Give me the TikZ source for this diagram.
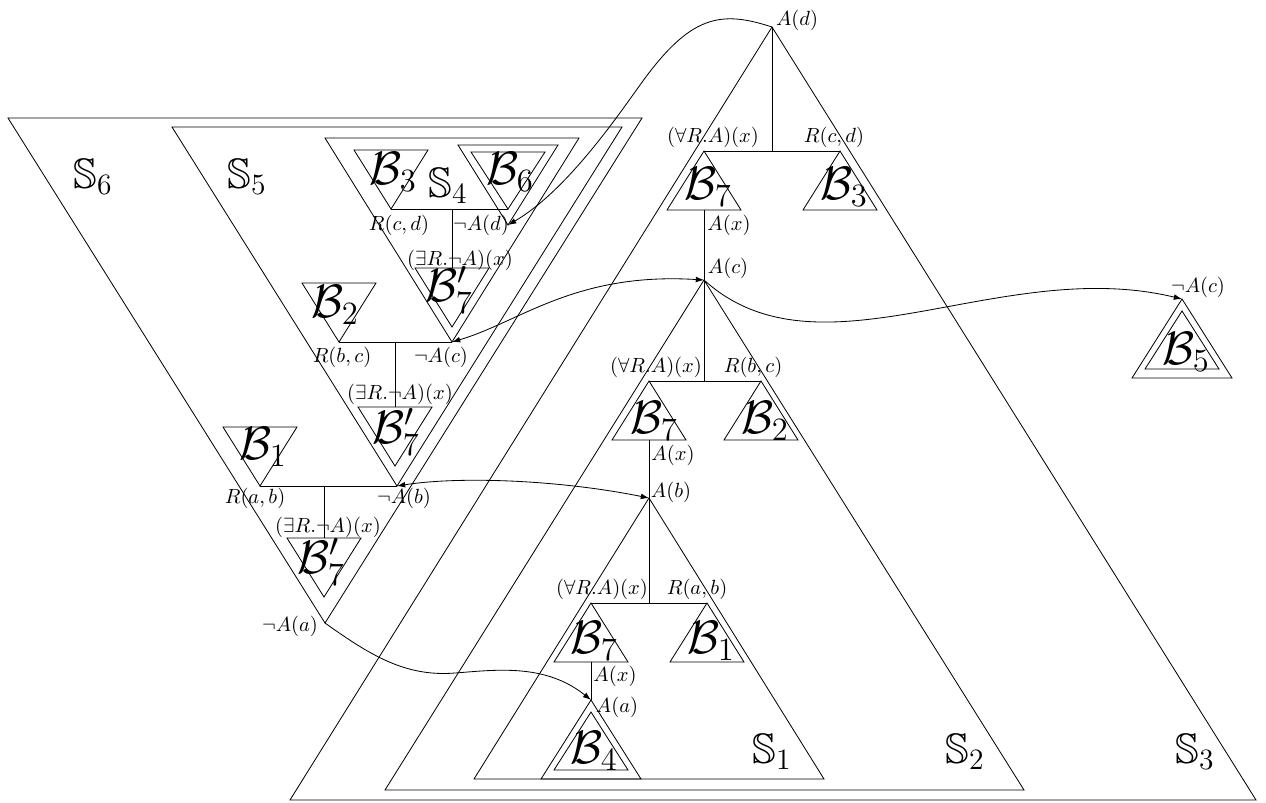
\documentclass[tikz,border=0pt]{standalone}
\usepackage{amssymb}
\usepackage{graphicx}
\usetikzlibrary{arrows.meta,calc}
\newcommand\BB[1]{\scalebox{1.1}{$#1$}}
\tikzset{
  lbl/.style={inner sep=0pt},
  bl/.style={inner sep=0pt,font=\huge},
  sl/.style={inner sep=0pt,font=\huge},
  arr/.style={-{Latex[length=4pt,width=2.8pt]}},
  darr/.style={{Latex[length=4pt,width=2.8pt]}-{Latex[length=4pt,width=2.8pt]}},
  uptri/.pic={\draw (0,0) -- (-37,59) -- (37,59) -- cycle;},
  dntri/.pic={\draw (0,0) -- (-37,-59) -- (37,-59) -- cycle;},
  updbl/.pic={\draw (0,0) -- (-50,79) -- (50,79) -- cycle;
              \draw (0,12) -- (-37,70) -- (37,70) -- cycle;},
  dndbl/.pic={\draw (0,0) -- (-50,-80) -- (50,-80) -- cycle;
              \draw (0,-16) -- (-37,-73) -- (37,-73) -- cycle;}
}
\begin{document}
\begin{tikzpicture}[x=0.4875pt,y=-0.4875pt]
\path[use as bounding box] (0,0) rectangle (1266,802);
% key points
\coordinate (Ad) at (772,27);
\coordinate (Ac) at (704,280);
\coordinate (Ab) at (649,498);
\coordinate (Aa) at (591,700);
\coordinate (nAd) at (508,225);
\coordinate (nAcL) at (452,342);
\coordinate (nAb) at (397,486);
\coordinate (nAa) at (325,623);
\coordinate (nAcR) at (1182,299);
% big triangles (right)
\draw (Ad) -- (290,800) -- (1256,800) -- cycle;
\draw (Ac) -- (385,790) -- (1024,790) -- cycle;
\draw (Ab) -- (474,779) -- (824,779) -- cycle;
% big inverted triangles (left)
\draw (nAa) -- (8,118) -- (642,118) -- cycle;
\draw (nAb) -- (172,127) -- (622,127) -- cycle;
\draw (nAcL) -- (325,138) -- (579,138) -- cycle;
% S3 tree
\coordinate (s3m) at (772,151);
\coordinate (s3l) at (704,151);
\coordinate (s3r) at (840,151);
\coordinate (s3b) at (704,210);
\draw (Ad) -- (s3m);
\draw (s3l) -- (s3r);
\draw (s3b) -- (Ac);
\pic at (s3l) {uptri};
\pic at (s3r) {uptri};
% S2 tree
\coordinate (s2m) at (704,381);
\coordinate (s2l) at (649,381);
\coordinate (s2r) at (761,381);
\coordinate (s2b) at (649,440);
\draw (Ac) -- (s2m);
\draw (s2l) -- (s2r);
\draw (s2b) -- (Ab);
\pic at (s2l) {uptri};
\pic at (s2r) {uptri};
% S1 tree
\coordinate (s1m) at (649,603);
\coordinate (s1l) at (591,603);
\coordinate (s1r) at (707,603);
\coordinate (s1b) at (591,662);
\draw (Ab) -- (s1m);
\draw (s1l) -- (s1r);
\draw (s1b) -- (Aa);
\pic at (s1l) {uptri};
\pic at (s1r) {uptri};
\pic at (Aa) {updbl};
\pic at (nAcR) {updbl};
% S4 tree
\coordinate (s4l) at (391,209);
\coordinate (s4r) at (508,209);
\coordinate (s4m) at (452,209);
\coordinate (s4b) at (452,268);
\draw (s4l) -- (s4r);
\draw (s4m) -- (s4b);
\pic at (s4l) {dntri};
\pic at (452,327) {dntri};
\pic at (nAd) {dndbl};
% S5 tree
\coordinate (s5l) at (339,342);
\coordinate (s5m) at (395,342);
\coordinate (s5b) at (395,407);
\draw (s5l) -- (nAcL);
\draw (s5m) -- (s5b);
\pic at (s5l) {dntri};
\pic at (395,466) {dntri};
% S6 tree
\coordinate (s6l) at (260,486);
\coordinate (s6m) at (324,486);
\coordinate (s6b) at (324,538);
\draw (s6l) -- (nAb);
\draw (s6m) -- (s6b);
\pic at (s6l) {dntri};
\pic at (324,597) {dntri};
% labels right
\node[lbl] (lAd) at (797,20) {$A(d)$};
\node[lbl] (l3a) at (713,137) {$(\forall R.A)(x)$};
\node[lbl] (l3b) at (834,137) {$R(c,d)$};
\node[lbl] (l3c) at (729,225) {$A(x)$};
\node[lbl] (lAc) at (728,268) {$A(c)$};
\node[lbl] (l2a) at (656,367) {$(\forall R.A)(x)$};
\node[lbl] (l2b) at (753,367) {$R(b,c)$};
\node[lbl] (l2c) at (673,455) {$A(x)$};
\node[lbl] (lAb) at (671,492) {$A(b)$};
\node[lbl] (l1a) at (602,589) {$(\forall R.A)(x)$};
\node[lbl] (l1b) at (697,589) {$R(a,b)$};
\node[lbl] (l1c) at (615,676) {$A(x)$};
\node[lbl] (lAa) at (617,707) {$A(a)$};
\node[lbl] (lnAcR) at (1198,287) {$\neg A(c)$};
% labels left
\node[lbl] (l4a) at (399,225) {$R(c,d)$};
\node[lbl] (lnAd) at (481,225) {$\neg A(d)$};
\node[lbl] (l4b) at (460,260) {$(\exists R.\neg A)(x)$};
\node[lbl] (l5a) at (342,357) {$R(b,c)$};
\node[lbl] (lnAc) at (441,357) {$\neg A(c)$};
\node[lbl] (l5b) at (400,394) {$(\exists R.\neg A)(x)$};
\node[lbl] (l6a) at (255,498) {$R(a,b)$};
\node[lbl] (lnAb) at (404,498) {$\neg A(b)$};
\node[lbl] (l6b) at (328,527) {$(\exists R.\neg A)(x)$};
\node[lbl] (lnAa) at (290,626) {$\neg A(a)$};
% B labels
\node[bl] (b7s3) at (708,187) {\BB{\mathcal{B}_7}};
\node[bl] (b3s3) at (844,187) {\BB{\mathcal{B}_3}};
\node[bl] (b7s2) at (654,421) {\BB{\mathcal{B}_7}};
\node[bl] (b2s2) at (765,421) {\BB{\mathcal{B}_2}};
\node[bl] (b7s1) at (594,641) {\BB{\mathcal{B}_7}};
\node[bl] (b1s1) at (711,641) {\BB{\mathcal{B}_1}};
\node[bl] (b4) at (594,751) {\BB{\mathcal{B}_4}};
\node[bl] (b5) at (1186,352) {\BB{\mathcal{B}_5}};
\node[bl] (b3s4) at (393,172) {\BB{\mathcal{B}_3}};
\node[bl] (b6) at (510,172) {\BB{\mathcal{B}_6}};
\node[bl] (b7s4) at (449,290) {\BB{\mathcal{B}'_7}};
\node[bl] (b2s5) at (335,305) {\BB{\mathcal{B}_2}};
\node[bl] (b7s5) at (396,432) {\BB{\mathcal{B}'_7}};
\node[bl] (b1s6) at (263,447) {\BB{\mathcal{B}_1}};
\node[bl] (b7s6) at (321,562) {\BB{\mathcal{B}'_7}};
% S labels
\node[sl] (S6) at (93,177) {$\mathbb{S}_6$};
\node[sl] (S5) at (247,177) {$\mathbb{S}_5$};
\node[sl] (S4) at (448,186) {$\mathbb{S}_4$};
\node[sl] (S1) at (772,752) {$\mathbb{S}_1$};
\node[sl] (S2) at (965,752) {$\mathbb{S}_2$};
\node[sl] (S3) at (1195,752) {$\mathbb{S}_3$};
% curved connectors
\coordinate (wD) at (640,85);
\draw[arr] (Ad) .. controls (720,10) and (690,15) .. (wD)
  .. controls (615,120) and (565,192) .. (nAd);
\draw[darr] (nAcL) .. controls (520,322) and (575,272) .. (Ac);
\draw[arr] (Ac) .. controls (820,385) and (1000,255) .. (nAcR);
\draw[darr] (nAb) .. controls (460,476) and (560,480) .. (Ab);
\coordinate (wA) at (455,673);
\draw[arr] (nAa) .. controls (370,655) and (405,677) .. (wA)
  .. controls (495,670) and (545,663) .. (Aa);
\end{tikzpicture}
\end{document}
